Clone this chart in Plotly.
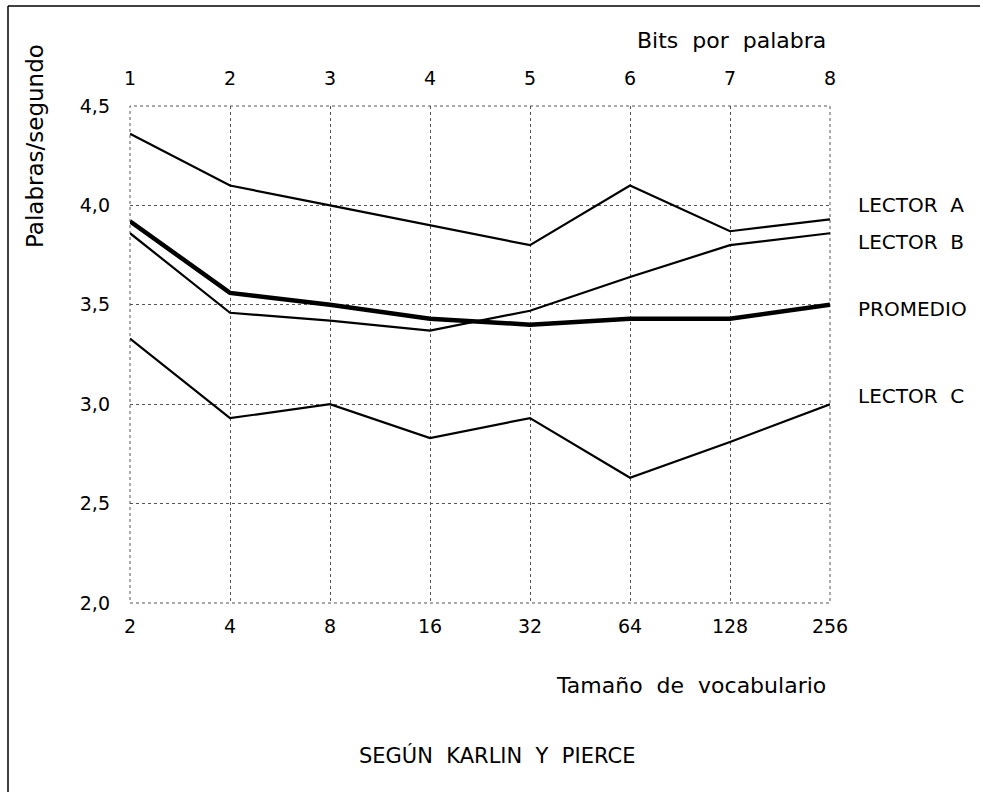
import plotly.graph_objects as go

bits = [1, 2, 3, 4, 5, 6, 7, 8]
vocab = ["2", "4", "8", "16", "32", "64", "128", "256"]
lector_a = [4.36, 4.10, 4.00, 3.90, 3.80, 4.10, 3.87, 3.93]
lector_b = [3.86, 3.46, 3.42, 3.37, 3.47, 3.64, 3.80, 3.86]
promedio = [3.92, 3.56, 3.50, 3.43, 3.40, 3.43, 3.43, 3.50]
lector_c = [3.33, 2.93, 3.00, 2.83, 2.93, 2.63, 2.81, 3.00]
yticks = [2.0, 2.5, 3.0, 3.5, 4.0, 4.5]
ytext = ["2,0", "2,5", "3,0", "3,5", "4,0", "4,5"]

FONT = "DejaVu Sans"
W, H = 983, 792
L, R, T, B = 130, 830, 106, 603
GRID = "#555555"

def px(x):
    return (x - L) / (R - L)

def py(y):
    return (B - y) / (B - T)

fig = go.Figure()
for vals, w in [(lector_a, 2.2), (lector_b, 2.2), (lector_c, 2.2), (promedio, 4.5)]:
    fig.add_trace(go.Scatter(x=bits, y=vals, mode="lines",
                             line=dict(color="black", width=w),
                             showlegend=False, hoverinfo="skip"))
# invisible trace for top axis
fig.add_trace(go.Scatter(x=bits, y=promedio, xaxis="x2", mode="lines",
                         line=dict(width=0), opacity=0, showlegend=False,
                         hoverinfo="skip"))

grid = dict(showgrid=True, gridcolor=GRID, griddash="dot", gridwidth=1,
            zeroline=False, showline=False)

fig.update_layout(
    width=W, height=H,
    margin=dict(l=L, r=W - R, t=T, b=H - B),
    paper_bgcolor="white", plot_bgcolor="white",
    font=dict(family=FONT, color="black", size=19),
    xaxis=dict(range=[1, 8], tickvals=bits, ticktext=vocab,
               ticklabelstandoff=10, tickfont=dict(size=19), **grid),
    xaxis2=dict(range=[1, 8], tickvals=bits,
                ticktext=[str(b) for b in bits],
                overlaying="x", side="top", showgrid=False, zeroline=False,
                ticklabelstandoff=16, tickfont=dict(size=19)),
    yaxis=dict(range=[2.0, 4.5], tickvals=yticks, ticktext=ytext,
               ticklabelstandoff=19, tickfont=dict(size=19), **grid),
)

ann = []
ann.append(dict(text="Bits  por  palabra", xref="paper", yref="paper",
                x=px(828), y=py(40), xanchor="right", yanchor="middle",
                showarrow=False, font=dict(size=22)))
ann.append(dict(text="Tamaño  de  vocabulario", xref="paper", yref="paper",
                x=px(828), y=py(685), xanchor="right", yanchor="middle",
                showarrow=False, font=dict(size=22)))
ann.append(dict(text="Palabras/segundo", xref="paper", yref="paper",
                x=px(35), y=py(42), xanchor="center", yanchor="top",
                textangle=-90, showarrow=False, font=dict(size=23)))
ann.append(dict(text="SEGÚN  KARLIN  Y  PIERCE", xref="paper", yref="paper",
                x=px(497), y=py(755), xanchor="center", yanchor="middle",
                showarrow=False, font=dict(size=21)))
for label, ypix in [("LECTOR  A", 205), ("LECTOR  B", 242),
                    ("PROMEDIO", 309), ("LECTOR  C", 396)]:
    ann.append(dict(text=label, xref="paper", yref="paper",
                    x=px(856), y=py(ypix), xanchor="left", yanchor="middle",
                    showarrow=False, font=dict(size=20)))
fig.update_layout(annotations=ann)

# dotted frame of the plot area (edge grid lines)
fig.add_shape(type="rect", xref="paper", yref="paper", x0=0, x1=1, y0=0, y1=1,
              line=dict(color=GRID, width=1, dash="dot"), layer="below")

fig.add_shape(type="line", xref="paper", yref="paper",
              x0=px(8), x1=px(8), y0=py(6), y1=py(795),
              line=dict(color="black", width=1.5))
fig.add_shape(type="line", xref="paper", yref="paper",
              x0=px(8), x1=px(980), y0=py(6), y1=py(6),
              line=dict(color="black", width=1.5))

fig.write_html("out.html",
               config={"displayModeBar": False},
               post_script="document.body.style.margin='0';"
                           "document.body.style.overflow='hidden';")
